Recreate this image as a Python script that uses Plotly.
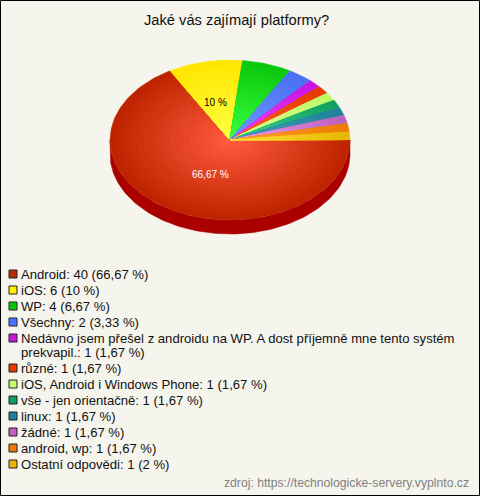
import math
import plotly.graph_objects as go

TITLE = "Jaké vás zajímají platformy?"
SOURCE = "zdroj: https://technologicke-servery.vyplnto.cz"
categories = ["Android", "iOS", "WP", "Všechny",
              "Nedávno jsem přešel z androidu na WP. A dost příjemně mne tento systém<br>prekvapil.",
              "různé", "iOS, Android i Windows Phone", "vše - jen orientačně", "linux",
              "žádné", "android, wp", "Ostatní odpovědi"]
values = [40, 6, 4, 2, 1, 1, 1, 1, 1, 1, 1, 1]
percent_labels = ["66,67 %", "10 %", "6,67 %", "3,33 %", "1,67 %", "1,67 %", "1,67 %",
                  "1,67 %", "1,67 %", "1,67 %", "1,67 %", "2 %"]
legend_colors = ["#B92C06", "#FFF000", "#0DC40D", "#4C74FF", "#C815D8", "#E63C00",
                 "#C2FF70", "#119E5E", "#217F96", "#BF5FBF", "#E97A00", "#EBB400"]
edge_colors = ["#BE2400", "#FFE600", "#0CC80C", "#4A70F5", "#C814E0", "#E63A00",
               "#BDFA68", "#10A060", "#22829A", "#BC60BE", "#EE7C04", "#E8B800"]
center_colors = ["#FF5A3C", "#FFFF40", "#38FF40", "#6E96FF", "#F040FF", "#FF6030",
                 "#E0FF90", "#40D090", "#40A0B8", "#F0A0F0", "#FFA030", "#FFE040"]
side_color = "#AA0000"
shown_slice_labels = {0: (210, 174, "white"), 1: (215, 102, "black")}

CX, CY, RX, RY, DEPTH = 230, 140, 120, 80, 14
RINGS = 18


def hex2rgb(h):
    return tuple(int(h[i:i + 2], 16) for i in (1, 3, 5))


def mix(a, b, t):
    a, b = hex2rgb(a), hex2rgb(b)
    return "rgb(%d,%d,%d)" % tuple(round(a[i] + (b[i] - a[i]) * t) for i in range(3))


def arc(a0, a1, scale=1.0, dy=0):
    n = max(2, int(abs(a1 - a0) / 1.5))
    pts = [a0 + (a1 - a0) * i / n for i in range(n + 1)]
    xs = [CX + RX * scale * math.cos(math.radians(a)) for a in pts]
    ys = [CY + dy + RY * scale * math.sin(math.radians(a)) for a in pts]
    return xs, ys


fig = go.Figure()
total = sum(values)

# side wall: visible for the front half of the ellipse (screen angles 0..180)
angle = 0.0
for v, col in zip(values, edge_colors):
    a0, a1 = angle, angle + 360.0 * v / total
    angle = a1
    lo, hi = max(a0, 0), min(a1, 180)
    if hi > lo:
        x1, y1 = arc(lo, hi)
        x2, y2 = arc(hi, lo, dy=DEPTH)
        fig.add_trace(go.Scatter(x=x1 + x2 + x1[:1], y=y1 + y2 + y1[:1], mode="lines", fill="toself",
                                 fillcolor=side_color, line=dict(color=side_color, width=0.5),
                                 hoverinfo="skip"))

# top face: nested wedges produce the radial gradient
angle = 0.0
for v, e, c in zip(values, edge_colors, center_colors):
    a0, a1 = angle, angle + 360.0 * v / total
    angle = a1
    for k in range(RINGS):
        s = 1 - k / RINGS
        col = mix(e, c, k / (RINGS - 1))
        xs, ys = arc(a0, a1, s)
        fig.add_trace(go.Scatter(x=[CX] + xs + [CX], y=[CY] + ys + [CY], mode="lines", fill="toself",
                                 fillcolor=col, line=dict(color=col, width=0.3), hoverinfo="skip"))

# legend
line_y = 274
LINE = 16
WRAP_LINE = 14
annotations = []
sq_x, sq_y, sq_c = [], [], []
for cat, v, p, col in zip(categories, values, percent_labels, legend_colors):
    sq_x.append(13); sq_y.append(line_y); sq_c.append(col)
    parts = f"{cat}: {v} ({p})".split("<br>")
    for i, part in enumerate(parts):
        annotations.append(dict(x=19, y=line_y + i * WRAP_LINE, xref="x", yref="y", xanchor="left",
                                yanchor="middle", text=part, showarrow=False,
                                font=dict(family="Liberation Sans", size=13.1, color="#111")))
    line_y += LINE + (len(parts) - 1) * WRAP_LINE
fig.add_trace(go.Scatter(x=sq_x, y=sq_y, mode="markers", hoverinfo="skip",
                         marker=dict(symbol="square", size=8, color=sq_c,
                                     line=dict(color="#222", width=1))))

for idx, (x, y, c) in shown_slice_labels.items():
    annotations.append(dict(x=x, y=y, xref="x", yref="y", text=percent_labels[idx], showarrow=False,
                            font=dict(family="Liberation Sans", size=10, color=c)))
annotations.append(dict(x=236, y=20, xref="x", yref="y", text=TITLE, showarrow=False,
                        font=dict(family="Liberation Sans", size=14.7, color="#111")))
annotations.append(dict(x=471, y=483, xref="x", yref="y", xanchor="right", text=SOURCE, showarrow=False,
                        font=dict(family="Liberation Sans", size=12.2, color="#808080")))

fig.update_layout(
    width=480, height=496, autosize=False, showlegend=False,
    margin=dict(l=0, r=0, t=0, b=0), paper_bgcolor="#F5F5ED", plot_bgcolor="#F5F5ED",
    xaxis=dict(range=[0, 480], visible=False, fixedrange=True),
    yaxis=dict(range=[496, 0], visible=False, fixedrange=True),
    annotations=annotations,
    shapes=[dict(type="rect", xref="x", yref="y", x0=0.5, y0=0.5, x1=479.5, y1=495.5,
                 line=dict(color="black", width=1), fillcolor="rgba(0,0,0,0)")],
)
fig.write_html("out.html", config=dict(displayModeBar=False),
               post_script="document.documentElement.style.overflow='hidden';document.body.style.margin='0';")
